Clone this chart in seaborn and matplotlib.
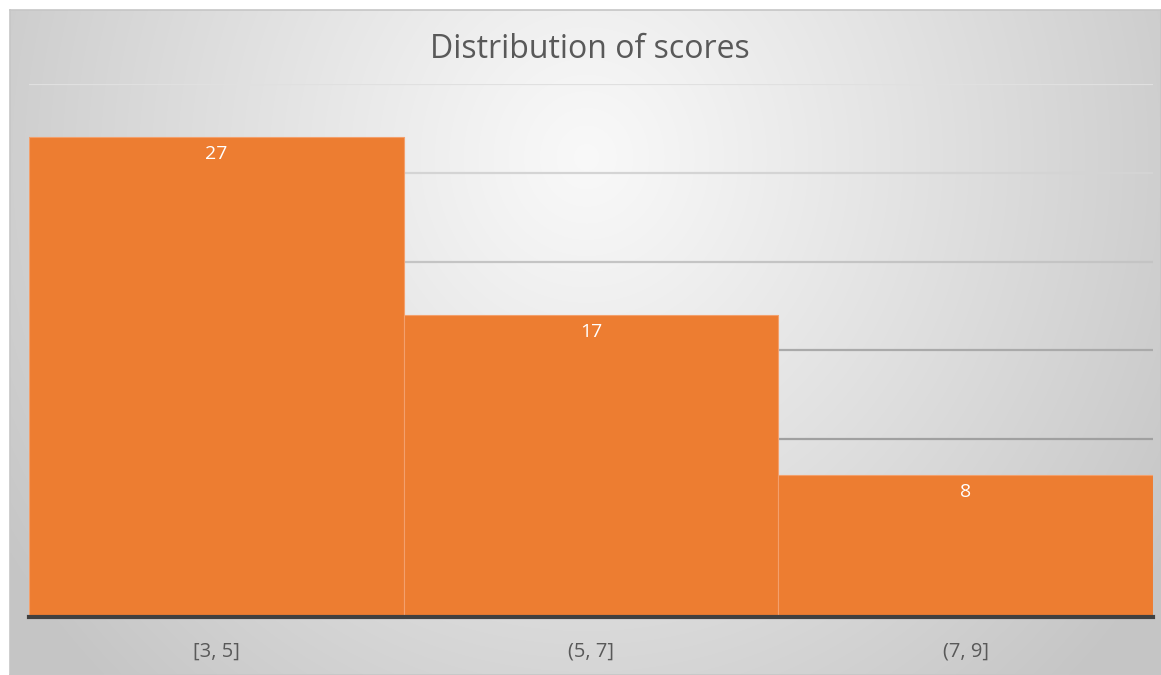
import matplotlib

matplotlib.use("Agg")
import matplotlib.pyplot as plt
import numpy as np
import pandas as pd
import seaborn as sns

bins = ["[3, 5]", "(5, 7]", "(7, 9]"]
counts = [27, 17, 8]

df = pd.DataFrame({"bin": bins, "count": counts})

sns.set_theme(style="white")
plt.rcParams["font.family"] = ["Open Sans", "DejaVu Sans"]

fig = plt.figure(figsize=(11.61, 6.75), dpi=100, facecolor="white")

# chart-area background with soft radial gradient
bg = fig.add_axes([10 / 1161, 0, 1151 / 1161, 665 / 675], zorder=0)
h, w = 300, 500
yy, xx = np.mgrid[0:h, 0:w]
cx, cy = w * 0.5, h * 0.22
d = np.sqrt(((xx - cx) / (w * 0.6)) ** 2 + ((yy - cy) / (h * 1.1)) ** 2)
d = np.clip(d, 0, 1)
shade = 0.975 - 0.2 * d**1.1
img = np.dstack([shade, shade, shade])
bg.imshow(img, aspect="auto", extent=[0, 1, 0, 1], interpolation="bilinear")
bg.set_xlim(0, 1)
bg.set_ylim(0, 1)
bg.set_xticks([])
bg.set_yticks([])
for s in bg.spines.values():
    s.set_color("#c6c6c6")
    s.set_linewidth(1.2)

ax = fig.add_axes([29 / 1161, 58 / 675, 1124 / 1161, 533 / 675], zorder=1)
ax.patch.set_alpha(0)

sns.barplot(
    data=df,
    x="bin",
    y="count",
    color="#ED7D31",
    saturation=1,
    width=1.0,
    edgecolor="#F3A06C",
    linewidth=0.8,
    ax=ax,
    zorder=2,
)

ax.set_xlim(-0.5, 2.5)
ax.set_ylim(0, 30)
ax.set_yticks(range(0, 31, 5))
ax.set_yticklabels([])
ax.tick_params(axis="y", length=0)
ax.tick_params(axis="x", length=0, pad=18, labelsize=14.5, labelcolor="#595959")
ax.yaxis.grid(True, linewidth=1.6, zorder=0)
ax.set_axisbelow(True)
grid_colors = ["#ffffff", "#9a9a9a", "#a0a0a0", "#aaaaaa", "#c4c4c4", "#d4d4d4", "#e0e0e0"]
for gl, c in zip(ax.get_ygridlines(), grid_colors):
    gl.set_color(c)
ax.get_ygridlines()[0].set_visible(False)

for s in ["top", "right", "left"]:
    ax.spines[s].set_visible(False)
ax.spines["bottom"].set_color("#404040")
ax.spines["bottom"].set_linewidth(3)
ax.spines["bottom"].set_zorder(3)

for p, v in zip(ax.patches, counts):
    ax.text(
        p.get_x() + p.get_width() / 2,
        p.get_height() - 0.45,
        str(v),
        ha="center",
        va="top",
        color="white",
        fontsize=14,
        zorder=4,
    )

ax.set_xlabel("")
ax.set_ylabel("")
fig.text(
    0.5085, 1 - 49 / 675, "Distribution of scores",
    ha="center", va="center", fontsize=23, color="#595959",
)

fig.savefig("out.png", dpi=100)
